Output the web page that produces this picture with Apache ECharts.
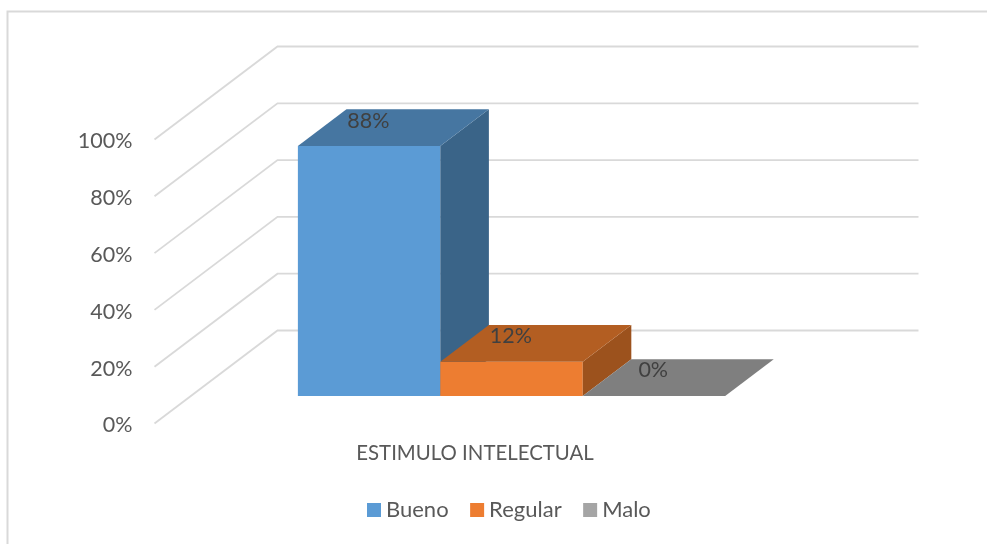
<!DOCTYPE html>
<html>
<head>
<meta charset="utf-8">
<style>html,body{margin:0;padding:0;background:#fff}#c{width:987px;height:544px}</style>
<script src="https://cdn.jsdelivr.net/npm/echarts@6/dist/echarts.min.js"></script>
</head>
<body>
<div id="c"></div>
<script>
const categories = ['ESTIMULO INTELECTUAL'];
const seriesNames = ['Bueno', 'Regular', 'Malo'];
const bueno = [88];
const regular = [12];
const malo = [0];
const yTicks = [0, 20, 40, 60, 80, 100];

const FONT = 'Lato, "Open Sans", sans-serif';
const palette = [
  {legend: '#5b9bd5', front: '#5b9bd5', top: '#4676a1', side: '#3a6488'},
  {legend: '#ed7d31', front: '#ed7d31', top: '#b35e22', side: '#9c521d'},
  {legend: '#a5a5a5', front: '#a5a5a5', top: '#7f7f7f', side: '#6b6b6b'}
];
// oblique projection of the chart's depth axis, in pixels
const DEPTH_X = 123, DEPTH_Y = -93;
const BAR_NEAR = 0.297, BAR_FAR = 0.692;
const BAR_WIDTH_FRAC = 0.2222;

function oblique(p, d) { return [p[0] + DEPTH_X * d, p[1] + DEPTH_Y * d]; }

function makeBarRenderer(idx) {
  return function (params, api) {
    const cat = api.value(0), val = api.value(1);
    const c = palette[idx];
    const band = api.size([1, 0])[0];
    const w = band * BAR_WIDTH_FRAC;
    const base = api.coord([cat, 0]);
    const head = api.coord([cat, val]);
    const x0 = base[0] + (idx - 1.5) * w, x1 = x0 + w;
    const bl = oblique([x0, base[1]], BAR_NEAR), br = oblique([x1, base[1]], BAR_NEAR);
    const tl = oblique([x0, head[1]], BAR_NEAR), tr = oblique([x1, head[1]], BAR_NEAR);
    const bbr = oblique([x1, base[1]], BAR_FAR);
    const btl = oblique([x0, head[1]], BAR_FAR), btr = oblique([x1, head[1]], BAR_FAR);
    const poly = (pts, fill) => ({type: 'polygon', shape: {points: pts}, style: {fill: fill}});
    const children = [];
    if (val > 0) {
      children.push(poly([bl, br, tr, tl], c.front));
      children.push(poly([br, bbr, btr, tr], c.side));
    }
    children.push(poly([tl, tr, btr, btl], c.top));
    children.push({
      type: 'text',
      style: {
        text: val + '%',
        x: (tl[0] + btr[0]) / 2 - 25,
        y: (tl[1] + btr[1]) / 2 - 7,
        fill: '#404040',
        font: '21.5px ' + FONT,
        align: 'center',
        verticalAlign: 'middle'
      }
    });
    return {type: 'group', children: children};
  };
}

const values = [bueno, regular, malo];
const chart = echarts.init(document.getElementById('c'), null, {renderer: 'canvas'});
chart.setOption({
  animation: false,
  backgroundColor: '#ffffff',
  graphic: [{
    type: 'polyline',
    shape: {points: [[7.5, 544], [7.5, 11.5], [987, 11.5]]},
    style: {fill: null, stroke: '#d9d9d9', lineWidth: 2},
    silent: true
  }],
  grid: {left: 154.5, top: 139.5, width: 641, height: 284},
  legend: {
    data: seriesNames,
    left: 362,
    top: 494,
    itemWidth: 14,
    itemHeight: 14,
    itemGap: 21.5,
    icon: 'rect',
    textStyle: {color: '#595959', fontSize: 22, fontFamily: FONT},
    selectedMode: false
  },
  xAxis: {
    type: 'category',
    data: categories,
    axisLine: {show: false},
    axisTick: {show: false},
    axisLabel: {color: '#595959', fontSize: 20.4, fontFamily: FONT, margin: 20}
  },
  yAxis: {
    type: 'value',
    min: 0,
    max: 100,
    interval: 20,
    axisLine: {show: false},
    axisTick: {show: false},
    splitLine: {show: false},
    axisLabel: {color: '#595959', fontSize: 21.5, fontFamily: FONT, margin: 22, verticalAlign: 'top', lineHeight: 4, formatter: '{value}%'}
  },
  series: [{
    type: 'custom',
    name: 'walls',
    silent: true,
    z: 1,
    clip: false,
    data: yTicks.map(t => [0, t]),
    encode: {x: 0, y: 1},
    renderItem: function (params, api) {
      const v = api.value(1);
      const p = api.coord([0, v]);
      const band = api.size([1, 0])[0];
      const start = [p[0] - band / 2, p[1]];
      const backStart = oblique(start, 1);
      return {
        type: 'polyline',
        shape: {points: [start, backStart, [backStart[0] + band, backStart[1]]]},
        style: {fill: null, stroke: '#d9d9d9', lineWidth: 1.8},
        silent: true
      };
    }
  }].concat(seriesNames.map((name, i) => ({
    type: 'custom',
    name: name,
    z: 2 + i,
    clip: false,
    itemStyle: {color: palette[i].legend},
    data: categories.map((c, j) => [j, values[i][j]]),
    encode: {x: 0, y: 1},
    renderItem: makeBarRenderer(i)
  })))
});
</script>
</body>
</html>
